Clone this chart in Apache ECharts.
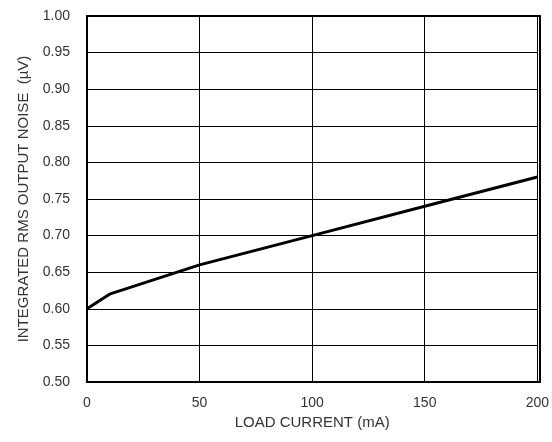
<!DOCTYPE html>
<html><head><meta charset="utf-8">
<script src="https://cdn.jsdelivr.net/npm/echarts@6/dist/echarts.min.js"></script>
<style>html,body{margin:0;padding:0;background:#fff}#c{width:552px;height:442px}</style>
</head><body><div id="c"></div>
<script>
const loadCurrent = [0, 10, 50, 100, 150, 200];
const noise = [0.60, 0.62, 0.66, 0.70, 0.74, 0.78];
const xTitle = 'LOAD CURRENT (mA)';
const yTitle = 'INTEGRATED RMS OUTPUT NOISE  (\u00b5V)';
const chart = echarts.init(document.getElementById('c'));
const font = '"Liberation Sans", Arial, sans-serif';
chart.setOption({
  animation: false,
  grid: {left: 87, right: 12, top: 16, bottom: 60},
  xAxis: {
    type: 'value', min: 0, max: 200, interval: 50,
    name: xTitle, nameLocation: 'middle', nameGap: 30,
    nameTextStyle: {fontFamily: font, fontSize: 15, color: '#333'},
    axisLine: {show: true, lineStyle: {color: '#000', width: 2}},
    axisTick: {show: false},
    axisLabel: {fontFamily: font, fontSize: 14, color: '#333', margin: 14},
    splitLine: {show: true, lineStyle: {color: '#000', width: 1}}
  },
  yAxis: {
    type: 'value', min: 0.5, max: 1.0, interval: 0.05,
    name: yTitle, nameLocation: 'middle', nameGap: 55,
    nameTextStyle: {fontFamily: font, fontSize: 15, color: '#333'},
    axisLine: {show: true, lineStyle: {color: '#000', width: 2}},
    axisTick: {show: false},
    axisLabel: {fontFamily: font, fontSize: 14, color: '#333', margin: 17, formatter: v => v.toFixed(2)},
    splitLine: {show: true, lineStyle: {color: '#000', width: 1}}
  },
  series: [{
    type: 'line', data: loadCurrent.map((x, i) => [x, noise[i]]),
    showSymbol: false, lineStyle: {color: '#000', width: 3}
  }],
  graphic: [{type: 'rect', shape: {x: 87, y: 16, width: 453, height: 366}, style: {fill: 'none', stroke: '#000', lineWidth: 2}, silent: true}]
});
</script></body></html>
